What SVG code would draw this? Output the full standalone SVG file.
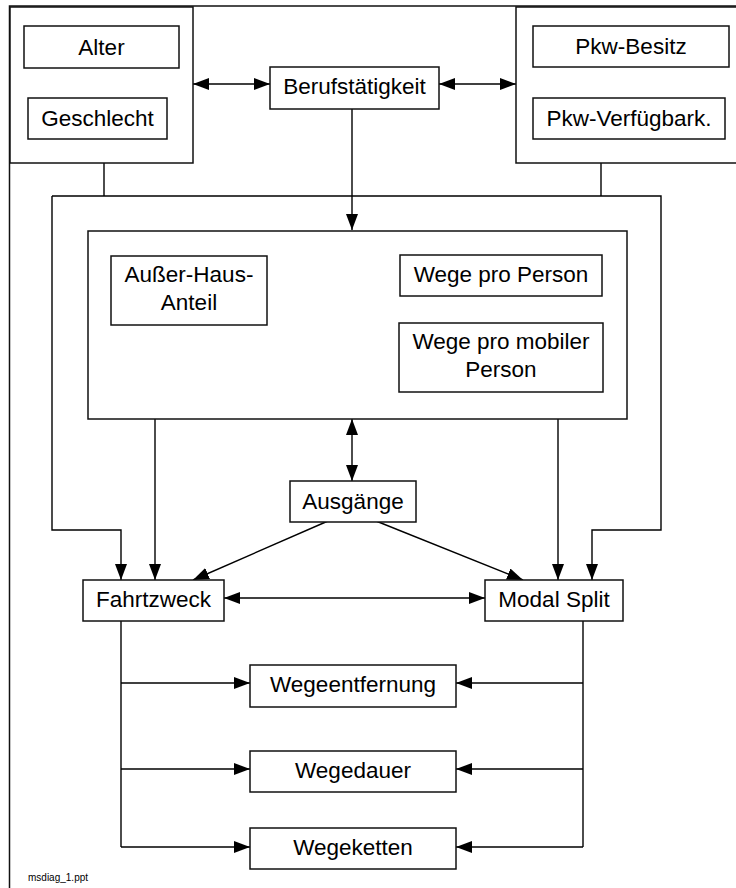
<svg xmlns="http://www.w3.org/2000/svg" width="736" height="888" viewBox="0 0 736 888">
<defs>
<marker id="ah" markerUnits="userSpaceOnUse" viewBox="0 0 16 12" markerWidth="16" markerHeight="12" refX="16" refY="6" orient="auto-start-reverse">
<path d="M0,0 L16,6 L0,12 z" fill="#000"/>
</marker>
<style>
.box{fill:#fff;stroke:#111;stroke-width:1.5}
.frame{fill:none;stroke:#111;stroke-width:1.5}
.t{font-family:"Liberation Sans",Arial,sans-serif;font-size:22.5px;fill:#000;text-anchor:middle}
.c{fill:none;stroke:#000;stroke-width:1.4}
.a{marker-end:url(#ah)}
.d{marker-start:url(#ah);marker-end:url(#ah)}
.foot{font-family:"Liberation Sans",Arial,sans-serif;font-size:10px;fill:#000}
</style>
</defs>
<rect width="736" height="888" fill="#fff"/>
<g id="frame">
<path class="frame" d="M9.5,888 L9.5,6 L736,6" stroke-width="2"/>
</g>
<g id="connectors">
<line class="c d" x1="193" y1="84" x2="270" y2="84"/>
<line class="c d" x1="439" y1="84" x2="516" y2="84"/>
<line class="c a" x1="352" y1="109" x2="352" y2="230"/>
<line class="c" x1="104" y1="163" x2="104" y2="196"/>
<line class="c" x1="601" y1="163" x2="601" y2="196"/>
<path class="c a" d="M52,196 L52,530 L121,530 L121,580"/>
<path class="c a" d="M52,196 L661,196 L661,530 L592,530 L592,580"/>
<line class="c a" x1="155" y1="419" x2="155" y2="580"/>
<line class="c a" x1="558" y1="419" x2="558" y2="580"/>
<line class="c d" x1="352" y1="419" x2="352" y2="481"/>
<line class="c a" x1="328" y1="521" x2="193" y2="580"/>
<line class="c a" x1="376" y1="521" x2="523" y2="580"/>
<line class="c d" x1="224" y1="598" x2="485" y2="598"/>
<line class="c" x1="121" y1="621" x2="121" y2="847"/>
<line class="c a" x1="121" y1="683" x2="250" y2="683"/>
<line class="c a" x1="121" y1="769" x2="250" y2="769"/>
<line class="c a" x1="121" y1="847" x2="250" y2="847"/>
<line class="c" x1="583" y1="621" x2="583" y2="847"/>
<line class="c a" x1="583" y1="683" x2="456" y2="683"/>
<line class="c a" x1="583" y1="769" x2="456" y2="769"/>
<line class="c a" x1="583" y1="847" x2="456" y2="847"/>
</g>
<g id="person-group">
<rect class="box" x="10" y="7" width="183" height="156"/>
</g>
<g id="pkw-group">
<rect class="box" x="516" y="7" width="240" height="156"/>
</g>
<g id="alter">
<rect class="box" x="24" y="26" width="155" height="42"/>
<text class="t" x="101.5" y="54.5">Alter</text>
</g>
<g id="geschlecht">
<rect class="box" x="28" y="98" width="139" height="41"/>
<text class="t" x="97.5" y="126">Geschlecht</text>
</g>
<g id="pkw-besitz">
<rect class="box" x="533" y="26" width="196" height="41"/>
<text class="t" x="631" y="54">Pkw-Besitz</text>
</g>
<g id="pkw-verfuegbarkeit">
<rect class="box" x="533" y="98" width="192" height="41"/>
<text class="t" x="629" y="126">Pkw-Verfügbark.</text>
</g>
<g id="berufstaetigkeit">
<rect class="box" x="270" y="67" width="169" height="42"/>
<text class="t" x="354.5" y="93.5">Berufstätigkeit</text>
</g>
<g id="mobility-group">
<rect class="box" x="88" y="231" width="539" height="188"/>
</g>
<g id="ausser-haus-anteil">
<rect class="box" x="111" y="256" width="156" height="69"/>
<text class="t" x="189" y="282">Außer-Haus-</text>
<text class="t" x="189" y="310">Anteil</text>
</g>
<g id="wege-pro-person">
<rect class="box" x="400" y="255" width="202" height="41"/>
<text class="t" x="501" y="282">Wege pro Person</text>
</g>
<g id="wege-pro-mobiler-person">
<rect class="box" x="399" y="323" width="204" height="69"/>
<text class="t" x="501" y="349">Wege pro mobiler</text>
<text class="t" x="501" y="377">Person</text>
</g>
<g id="ausgaenge">
<rect class="box" x="290" y="481" width="126" height="41"/>
<text class="t" x="353" y="508.5">Ausgänge</text>
</g>
<g id="fahrtzweck">
<rect class="box" x="83" y="580" width="141" height="41"/>
<text class="t" x="153.5" y="607">Fahrtzweck</text>
</g>
<g id="modal-split">
<rect class="box" x="485" y="580" width="138" height="41"/>
<text class="t" x="554" y="607">Modal Split</text>
</g>
<g id="wegeentfernung">
<rect class="box" x="250" y="665" width="206" height="42"/>
<text class="t" x="353" y="692">Wegeentfernung</text>
</g>
<g id="wegedauer">
<rect class="box" x="250" y="751" width="206" height="41"/>
<text class="t" x="353" y="778">Wegedauer</text>
</g>
<g id="wegeketten">
<rect class="box" x="250" y="828" width="206" height="41"/>
<text class="t" x="353" y="855">Wegeketten</text>
</g>
<text class="foot" x="28" y="881">msdiag_1.ppt</text>
</svg>
